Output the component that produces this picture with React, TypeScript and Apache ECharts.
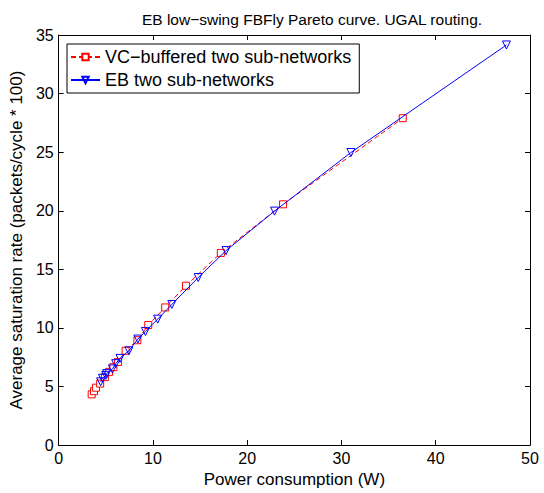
import React, { useEffect, useRef } from "react";
import * as echarts from "echarts";

const titleText = "EB low\u2212swing FBFly Pareto curve. UGAL routing.";
const xLabel = "Power consumption (W)";
const yLabel = "Average saturation rate (packets/cycle * 100)";
const seriesNames = ["VC\u2212buffered two sub-networks", "EB two sub-networks"];

const vcPower = [3.5, 3.75, 3.95, 4.4, 4.9, 5.35, 5.8, 6.3, 7.1, 8.35, 9.5, 11.3, 13.5, 17.2, 23.8, 36.5];
const vcRate = [4.33, 4.6, 4.9, 5.25, 5.8, 6.25, 6.65, 7.1, 8.05, 8.95, 10.25, 11.75, 13.6, 16.4, 20.55, 27.9];

const ebPower = [4.45, 4.65, 5.0, 5.1, 5.7, 6.05, 6.5, 7.45, 8.4, 9.2, 10.5, 12.0, 14.8, 17.75, 22.9, 31.0, 47.5];
const ebRate = [5.4, 5.7, 5.95, 6.1, 6.5, 6.95, 7.4, 8.05, 9.05, 9.7, 10.75, 12.0, 14.3, 16.6, 19.97, 24.97, 34.15];

const xTicks = [0, 10, 20, 30, 40, 50];

export default function App() {
  const ref = useRef<HTMLDivElement>(null);
  useEffect(() => {
    if (!ref.current) return;
    const chart = echarts.init(ref.current, null, { renderer: "svg" });
    const font = "'Liberation Sans', Arial, Helvetica, sans-serif";
    const axisCommon = {
      axisLine: { show: true, onZero: false, lineStyle: { color: "#000", width: 1 } },
      axisTick: { show: true, inside: true, length: 5, lineStyle: { color: "#000" } },
      splitLine: { show: false },
    };
    chart.setOption({
      animation: false,
      backgroundColor: "#fff",
      textStyle: { fontFamily: font },
      title: {
        text: titleText,
        left: 307,
        textAlign: "center",
        top: 6,
        textStyle: { fontSize: 15.5, fontWeight: "normal", color: "#000", fontFamily: font },
      },
      grid: { left: 56, right: 14, top: 35, bottom: 42, containLabel: false },
      legend: {
        orient: "vertical",
        left: 67,
        top: 44,
        backgroundColor: "#fff",
        borderColor: "#000",
        borderWidth: 1,
        borderRadius: 0,
        padding: [4, 8, 4, 3],
        itemGap: 5,
        itemWidth: 29,
        itemHeight: 8,
        textStyle: { fontSize: 18, color: "#000", fontFamily: font },
        data: seriesNames,
      },
      xAxis: [
        {
          type: "value",
          min: 0,
          max: 50,
          interval: 10,
          position: "bottom",
          name: xLabel,
          nameLocation: "middle",
          nameGap: 24,
          nameTextStyle: { fontSize: 17, color: "#000", fontFamily: font },
          axisLabel: {
            color: "#000",
            fontSize: 16,
            margin: 5,
            fontFamily: font,
            customValues: xTicks,
          },
          ...axisCommon,
        },
        {
          type: "value",
          min: 0,
          max: 50,
          interval: 10,
          position: "top",
          axisLabel: { show: false },
          ...axisCommon,
        },
      ],
      yAxis: [
        {
          type: "value",
          min: 0,
          max: 35,
          interval: 5,
          position: "left",
          name: yLabel,
          nameLocation: "middle",
          nameGap: 27,
          nameRotate: 90,
          nameTextStyle: { fontSize: 17, color: "#000", fontFamily: font },
          axisLabel: { color: "#000", fontSize: 16, margin: 5, fontFamily: font },
          ...axisCommon,
        },
        {
          type: "value",
          min: 0,
          max: 35,
          interval: 5,
          position: "right",
          axisLabel: { show: false },
          ...axisCommon,
        },
      ],
      series: [
        {
          name: seriesNames[0],
          type: "line",
          xAxisIndex: 0,
          yAxisIndex: 0,
          data: vcPower.map((p, i) => [p, vcRate[i]]),
          symbol: "rect",
          symbolSize: 7,
          showAllSymbol: true,
          lineStyle: { color: "#ff0000", width: 1, type: [5, 3] },
          itemStyle: { color: "#fff", borderColor: "#ff0000", borderWidth: 1 },
          color: "#ff0000",
          z: 2,
        },
        {
          name: seriesNames[1],
          type: "line",
          xAxisIndex: 0,
          yAxisIndex: 0,
          data: ebPower.map((p, i) => [p, ebRate[i]]),
          symbol: "triangle",
          symbolRotate: 180,
          symbolSize: 8,
          showAllSymbol: true,
          lineStyle: { color: "#0000ff", width: 1 },
          itemStyle: { color: "rgba(255,255,255,0)", borderColor: "#0000ff", borderWidth: 1 },
          color: "#0000ff",
          z: 3,
        },
      ],
    });
    return () => chart.dispose();
  }, []);
  return <div ref={ref} style={{ width: 544, height: 493, position: "absolute", left: 0, top: 0 }} />;
}
